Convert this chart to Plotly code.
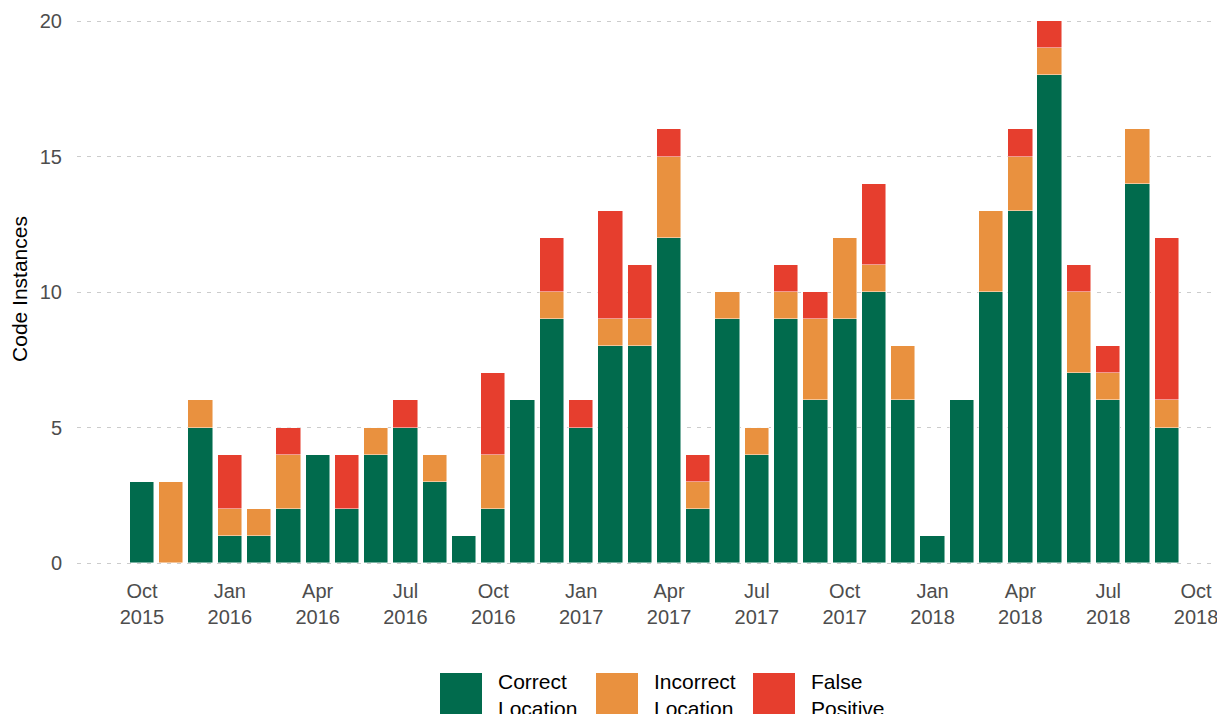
import plotly.graph_objects as go

# ---- data ----
months = ["2015-10", "2015-11", "2015-12",
          "2016-01", "2016-02", "2016-03", "2016-04", "2016-05", "2016-06",
          "2016-07", "2016-08", "2016-09", "2016-10", "2016-11", "2016-12",
          "2017-01", "2017-02", "2017-03", "2017-04", "2017-05", "2017-06",
          "2017-07", "2017-08", "2017-09", "2017-10", "2017-11", "2017-12",
          "2018-01", "2018-02", "2018-03", "2018-04", "2018-05", "2018-06",
          "2018-07", "2018-08", "2018-09"]

correct_location = [3, 0, 5,
                    1, 1, 2, 4, 2, 4,
                    5, 3, 1, 2, 6, 9,
                    5, 8, 8, 12, 2, 9,
                    4, 9, 6, 9, 10, 6,
                    1, 6, 10, 13, 18, 7,
                    6, 14, 5]
incorrect_location = [0, 3, 1,
                      1, 1, 2, 0, 0, 1,
                      0, 1, 0, 2, 0, 1,
                      0, 1, 1, 3, 1, 1,
                      1, 1, 3, 3, 1, 2,
                      0, 0, 3, 2, 1, 3,
                      1, 2, 1]
false_positive = [0, 0, 0,
                  2, 0, 1, 0, 2, 0,
                  1, 0, 0, 3, 0, 2,
                  1, 4, 2, 1, 1, 0,
                  0, 1, 1, 0, 3, 0,
                  0, 0, 0, 1, 1, 1,
                  1, 0, 6]

tick_positions = [0, 3, 6, 9, 12, 15, 18, 21, 24, 27, 30, 33, 36]
tick_labels = ["Oct<br>2015", "Jan<br>2016", "Apr<br>2016", "Jul<br>2016",
               "Oct<br>2016", "Jan<br>2017", "Apr<br>2017", "Jul<br>2017",
               "Oct<br>2017", "Jan<br>2018", "Apr<br>2018", "Jul<br>2018",
               "Oct<br>2018"]

series_names = ["Correct<br>Location", "Incorrect<br>Location", "False<br>Positive"]
series_values = [correct_location, incorrect_location, false_positive]
series_colors = ["#016b4d", "#e9913f", "#e63e2e"]

# ---- layout constants ----
# the page has an 8px body margin, so the figure is drawn 8px smaller
PAGE_OFF = 8
W, H = 1225 - PAGE_OFF, 714 - PAGE_OFF
ML, MR, MT, MB = 69, 0, 0, 144
PW, PH = W - ML - MR, H - MT - MB
FONT = "Liberation Sans, Arial, Helvetica, sans-serif"

x_index = list(range(len(months)))

fig = go.Figure()
for name, vals, col in zip(series_names, series_values, series_colors):
    fig.add_trace(go.Bar(
        x=x_index, y=vals, name=name, width=0.83,
        marker=dict(color=col, line=dict(color="rgba(255,255,255,0.8)", width=0.6)),
        showlegend=False,
        customdata=months,
        hovertemplate="%{customdata}: %{y}<extra></extra>",
    ))

# manual legend (large keys, as in the reference); coordinates in page pixels
def pxx(px):
    return (px - PAGE_OFF - ML) / PW

def pxy(py):
    return (H - MB - (py - PAGE_OFF)) / PH

key_x = [440, 596, 753]
for name, col, kx in zip(series_names, series_colors, key_x):
    fig.add_shape(type="rect", xref="paper", yref="paper",
                  x0=pxx(kx), x1=pxx(kx + 42), y0=pxy(673), y1=pxy(716),
                  fillcolor=col, line=dict(width=0), layer="above")
    fig.add_annotation(xref="paper", yref="paper", x=pxx(kx + 56), y=pxy(695),
                       xanchor="left", yanchor="middle", align="left",
                       text=name, showarrow=False,
                       font=dict(family=FONT, size=21, color="#000000"))

fig.update_layout(
    barmode="stack",
    width=W, height=H,
    margin=dict(l=ML, r=MR, t=MT, b=MB, autoexpand=False),
    plot_bgcolor="white", paper_bgcolor="white",
    font=dict(family=FONT, color="#4d4d4d"),
    bargap=0,
)
fig.update_xaxes(
    range=[-2.22, 36.99], automargin=False,
    tickvals=tick_positions, ticktext=tick_labels,
    tickfont=dict(size=20, color="#4d4d4d"),
    showgrid=False, zeroline=False, showline=False,
    ticks="outside", ticklen=3, tickcolor="rgba(0,0,0,0)",
)
fig.update_yaxes(
    range=[-0.258, 20.48], automargin=False,
    tickvals=[0, 5, 10, 15, 20],
    tickfont=dict(size=20, color="#4d4d4d"),
    showgrid=True, gridcolor="#cccccc", gridwidth=1, griddash="4px,6px",
    zeroline=False, showline=False,
    ticks="outside", ticklen=10, tickcolor="rgba(0,0,0,0)",
    title=dict(text="Code Instances", font=dict(size=21, color="#000000"), standoff=12),
)

fig.write_html("out.html")
